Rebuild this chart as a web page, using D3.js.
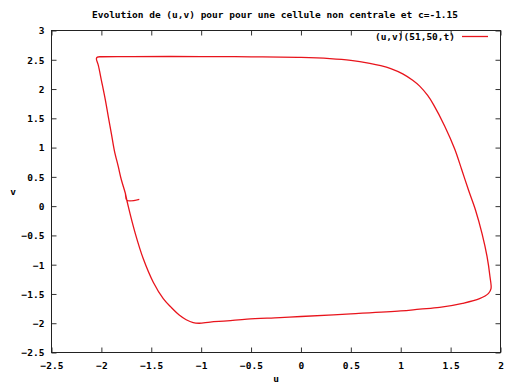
<!DOCTYPE html>
<html><head><meta charset="utf-8">
<script src="https://cdn.jsdelivr.net/npm/d3@7"></script>
<style>
html,body{margin:0;padding:0;background:#fff;}
svg text{font-family:"DejaVu Sans Mono",monospace;font-weight:bold;font-size:9.5px;fill:#000;}
</style>
</head><body>
<svg id="c" width="508" height="383"></svg>
<script>
const title = "Evolution de (u,v) pour pour une cellule non centrale et c=-1.15";
const xLabel = "u";
const yLabel = "v";
const seriesName = "(u,v)(51,50,t)";
const xTicks = [-2.5,-2,-1.5,-1,-0.5,0,0.5,1,1.5,2];
const yTicks = [-2.5,-2,-1.5,-1,-0.5,0,0.5,1,1.5,2,2.5,3];
const uVals = [-1.62,-1.745,-1.76,-1.80,-1.83,-1.87,-1.90,-1.93,-1.96,-2.00,-2.03,-2.05,-2.04,-2.00,-1.7,-1.0,-0.5,0.0,0.29,0.5,0.69,0.80,0.90,1.02,1.12,1.19,1.27,1.33,1.44,1.54,1.61,1.68,1.75,1.815,1.865,1.895,1.905,1.88,1.79,1.62,1.39,1.19,1.0,0.5,0.0,-0.21,-0.54,-0.74,-0.91,-1.02,-1.08,-1.15,-1.22,-1.30,-1.38,-1.48,-1.58,-1.66,-1.73,-1.76];
const vVals = [0.115,0.10,0.22,0.45,0.67,0.95,1.24,1.52,1.81,2.15,2.40,2.52,2.545,2.552,2.555,2.555,2.55,2.54,2.52,2.49,2.44,2.40,2.35,2.26,2.15,2.05,1.89,1.73,1.37,0.98,0.63,0.27,-0.07,-0.47,-0.86,-1.21,-1.41,-1.49,-1.58,-1.66,-1.73,-1.76,-1.79,-1.84,-1.885,-1.905,-1.93,-1.96,-1.98,-2.0,-1.99,-1.94,-1.86,-1.73,-1.58,-1.30,-0.90,-0.47,-0.01,0.22];

const svg = d3.select("#c");
const L=51.5, R=500.5, T=30.5, B=352.5;
const x = d3.scaleLinear().domain([-2.5,2]).range([L,R]);
const y = d3.scaleLinear().domain([-2.5,3]).range([B,T]);

const tick = 5;
svg.append("g").attr("transform",`translate(0,${B})`)
  .call(d3.axisBottom(x).tickValues(xTicks).tickSizeInner(-tick).tickSizeOuter(0).tickFormat(d=>d3.format("")(d)))
  .call(g=>{g.select(".domain").remove();g.selectAll("line").attr("stroke","#333");g.selectAll("text").attr("dy","0.35em").attr("y",13.5);});
svg.append("g").attr("transform",`translate(0,${T})`)
  .call(d3.axisTop(x).tickValues(xTicks).tickSizeInner(-tick).tickSizeOuter(0).tickFormat(""))
  .call(g=>{g.select(".domain").remove();g.selectAll("line").attr("stroke","#333");});
svg.append("g").attr("transform",`translate(${L},0)`)
  .call(d3.axisLeft(y).tickValues(yTicks).tickSizeInner(-tick).tickSizeOuter(0).tickFormat(d=>d3.format("")(d)))
  .call(g=>{g.select(".domain").remove();g.selectAll("line").attr("stroke","#333");g.selectAll("text").attr("x",-7).attr("dy","0.35em");});
svg.append("g").attr("transform",`translate(${R},0)`)
  .call(d3.axisRight(y).tickValues(yTicks).tickSizeInner(-tick).tickSizeOuter(0).tickFormat(""))
  .call(g=>{g.select(".domain").remove();g.selectAll("line").attr("stroke","#333");});
svg.selectAll(".tick text").style("font-family","'DejaVu Sans Mono',monospace").style("font-weight","bold").style("font-size","9.5px").attr("fill","#000");

svg.append("rect").attr("x",L).attr("y",T).attr("width",R-L).attr("height",B-T)
  .attr("fill","none").attr("stroke","#222").attr("stroke-width",1);

const pts = uVals.map((u,i)=>[u,vVals[i]]);
const line = d3.line().x(d=>x(d[0])).y(d=>y(d[1])).curve(d3.curveCatmullRom.alpha(0.5));
svg.append("path").attr("d",line(pts)).attr("fill","none").attr("stroke","#e8141c").attr("stroke-width",1.3);

svg.append("text").attr("x",275).attr("y",15).attr("text-anchor","middle").attr("dy","0.35em").text(title);
svg.append("text").attr("x",(L+R)/2).attr("y",379).attr("text-anchor","middle").attr("dy","0.35em").text(xLabel);
svg.append("text").attr("x",13).attr("y",(T+B)/2).attr("text-anchor","middle").attr("dy","0.35em").text(yLabel);

svg.append("text").attr("x",455).attr("y",37).attr("text-anchor","end").attr("dy","0.35em").text(seriesName);
svg.append("line").attr("x1",462).attr("x2",488).attr("y1",36.5).attr("y2",36.5).attr("stroke","#e8141c").attr("stroke-width",1.3);
</script>
</body></html>
